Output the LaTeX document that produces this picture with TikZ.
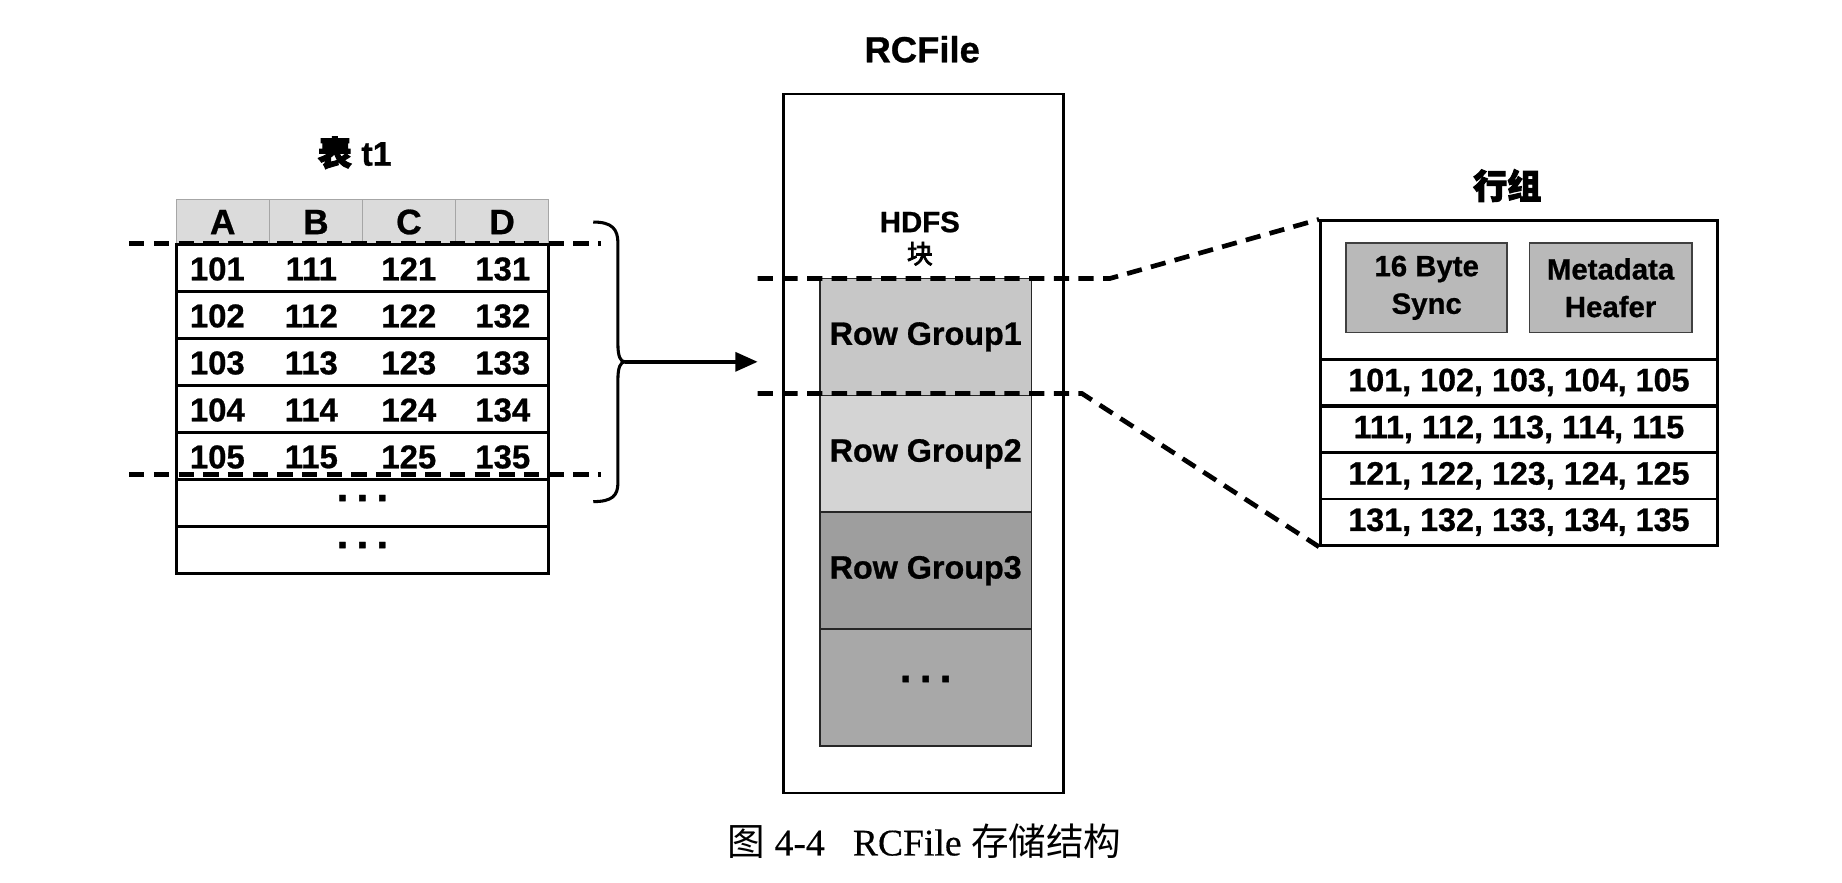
\documentclass[tikz,border=0pt]{standalone}
\usepackage{fontspec}
\setmainfont{Liberation Sans}[BoldFeatures={FakeBold=0.8}]
\newfontfamily\cjk{Noto Sans CJK SC}
\newfontfamily\cjkb{Noto Sans CJK SC}[FakeBold=3]
\newfontfamily\capserif{Liberation Serif}[FakeBold=0.4]
\usetikzlibrary{arrows.meta}
\begin{document}
\begin{tikzpicture}[x=1pt,y=-1pt,
  txt/.style={font=\fontsize{28}{30}\selectfont\bfseries, inner sep=0pt},
  hdr/.style={draw=gray!70, line width=1pt, fill=gray!28, minimum width=79.25pt, minimum height=38pt, inner sep=0pt, font=\fontsize{30}{32}\selectfont\bfseries},
  rowbox/.style={draw, line width=2.4pt, minimum width=317pt, minimum height=40pt, inner sep=0pt},
  rgbox/.style={draw=black!85, line width=1.3pt, minimum width=180pt, minimum height=99.5pt, inner sep=0pt, font=\fontsize{27.5}{29}\selectfont\bfseries},
  rrow/.style={draw, line width=2.4pt, minimum width=338pt, minimum height=39.5pt, inner sep=0pt, font=\fontsize{27.5}{29}\selectfont\bfseries},
  graybox/.style={draw=black!75, line width=1.5pt, fill=gray!55, minimum width=137pt, minimum height=76pt, inner sep=0pt, align=center, font=\fontsize{25}{32}\selectfont\bfseries},
  dashline/.style={line width=4pt, dash pattern=on 13pt off 8pt},
  ttl/.style={font=\fontsize{29}{31}\selectfont\bfseries, inner sep=0pt},
  dotstyle/.style={font=\fontsize{36}{38}\selectfont\bfseries, inner sep=0pt},
]
\useasboundingbox (0,0) rectangle (1568,751);

% ---------- table t1 ----------
\node[ttl] (t1title) at (302,130) {{\cjkb 表} t1};
\foreach \c/\x/\l in {0/189.6/A,1/268.9/B,2/348.1/C,3/427.4/D}{
  \node[hdr] (h\c) at (\x,189) {\l};
}
\foreach \r in {1,...,7}{
  \node[rowbox] (r\r) at (308.5,188+40*\r) {};
}
\foreach \c/\x in {0/185,1/265,2/348,3/428}{
  \foreach \r in {1,...,5}{
    \pgfmathtruncatemacro\v{100+10*\c+\r}
    \node[txt] (n\c\r) at (\x,189+40*\r) {\v};
  }
}
\node[dotstyle] (dots1) at (308.5,424) {.\hspace{7pt}.\hspace{7pt}.};
\node[dotstyle] (dots2) at (308.5,464) {.\hspace{7pt}.\hspace{7pt}.};

\coordinate (dl1) at (110,207);
\coordinate (dr1) at (512,207);
\coordinate (dl2) at (110,404);
\coordinate (dr2) at (512,404);
\draw[dashline] (dl1) -- (dr1);
\draw[dashline] (dl2) -- (dr2);

% brace and arrow
\coordinate (tip) at (532,308);
\coordinate (aend) at (645,308);
\draw[line width=2.6pt] (505,189) .. controls (521,189) and (526,195) .. (526,207)
  -- (526,293) .. controls (526,303) and (528,308) .. (tip)
  .. controls (528,308) and (526,313) .. (526,323)
  -- (526,411) .. controls (526,422) and (521,427) .. (505,427);
\draw[line width=3.2pt, -{Triangle[length=19pt,width=16pt]}] (tip) -- (aend);

% ---------- RCFile ----------
\node[ttl, font=\fontsize{31}{33}\selectfont\bfseries] (rctitle) at (785,42) {RCFile};
\node[draw, line width=2.4pt, minimum width=238pt, minimum height=595pt, inner sep=0pt] (rcbox) at (786,377.5) {};
\node[txt, font=\fontsize{25}{27}\selectfont\bfseries] (hdfs) at (783,189) {HDFS};
\node[inner sep=0pt, font=\fontsize{22}{23}\selectfont\cjkb] (kuai) at (783,216) {块};
\node[rgbox, fill=gray!44] (rg1) at (788,286.75) {Row Group1};
\node[rgbox, fill=gray!34] (rg2) at (788,386.25) {Row Group2};
\node[rgbox, fill=gray!76] (rg3) at (788,485.75) {Row Group3};
\node[rgbox, fill=gray!68] (rg4) at (788,585.25) {};
\node[dotstyle] (dots3) at (788,578) {.\hspace{7pt}.\hspace{7pt}.};

% ---------- row group detail ----------
\node[ttl] (rgtitle) at (1283,158) {\cjkb 行组};
\node[draw, line width=2.4pt, minimum width=338pt, minimum height=118pt, inner sep=0pt] (rhead) at (1293,247) {};
\node[graybox] (sync) at (1214.5,245) {16 Byte\\Sync};
\node[graybox, minimum width=138pt] (meta) at (1371,245) {Metadata\\Heafer};
\node[rrow] (rr1) at (1293,325.5) {101, 102, 103, 104, 105};
\node[rrow] (rr2) at (1293,365.5) {111, 112, 113, 114, 115};
\node[rrow] (rr3) at (1293,405) {121, 122, 123, 124, 125};
\node[rrow] (rr4) at (1293,444.5) {131, 132, 133, 134, 135};

% dashed zoom lines
\coordinate (u0) at (645,237);
\coordinate (u1) at (945,237);
\coordinate (b0) at (645,335);
\coordinate (b1) at (921,335);
\draw[dashline] (u0) -- (u1) -- (rhead.north west);
\draw[dashline] (b0) -- (b1) -- (rr4.south west);

% caption
\node[inner sep=0pt, font=\fontsize{32}{34}\selectfont\capserif] (caption) at (787,716) {{\cjk 图} 4-4\hspace{24pt}RCFile {\cjk 存储结构}};
\end{tikzpicture}
\end{document}
